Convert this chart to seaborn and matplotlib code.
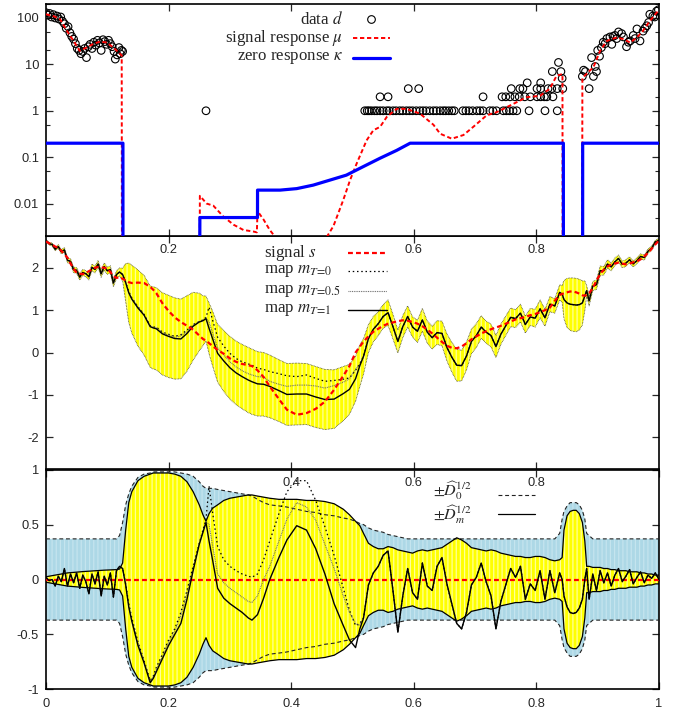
import numpy as np
import matplotlib
matplotlib.use("Agg")
import matplotlib.pyplot as plt
from matplotlib.lines import Line2D
from matplotlib.ticker import FixedLocator, LogLocator, NullFormatter
import seaborn as sns

# ---------------- top panel: data d (counts) ----------------
data_left_x = [0.000, 0.003, 0.006, 0.009, 0.012, 0.015, 0.018, 0.021, 0.024, 0.027, 0.030, 0.033,
               0.036, 0.039, 0.042, 0.045, 0.048, 0.051, 0.054, 0.057, 0.060, 0.063, 0.066, 0.069,
               0.072, 0.075, 0.078, 0.081, 0.084, 0.087, 0.090, 0.093, 0.096, 0.099, 0.102, 0.105,
               0.108, 0.111, 0.113, 0.116, 0.119, 0.121, 0.123, 0.125]
data_left_y = [130, 115, 125, 105, 118, 100, 110, 95, 105, 85, 75, 60, 65, 48, 40, 35, 28, 22, 20, 17,
               19, 22, 14, 24, 27, 22, 30, 26, 33, 29, 20, 34, 31, 27, 33, 28, 24, 19, 13, 16, 23, 17,
               20, 19]
count1_x = [0.261, 0.520, 0.524, 0.527, 0.531, 0.536, 0.540, 0.545, 0.550, 0.556, 0.560, 0.566, 0.571,
            0.577, 0.582, 0.588, 0.593, 0.598, 0.604, 0.610, 0.615, 0.620, 0.626, 0.632, 0.637, 0.643,
            0.648, 0.652, 0.657, 0.662, 0.666, 0.680, 0.685, 0.690, 0.696, 0.703, 0.708, 0.713, 0.724,
            0.729, 0.735, 0.746, 0.751, 0.756, 0.762, 0.768, 0.788, 0.814, 0.834]
count2_x = [0.545, 0.558, 0.713, 0.744, 0.750, 0.757, 0.765, 0.772, 0.781, 0.790, 0.801, 0.807, 0.813,
            0.817, 0.827]
count3_x = [0.591, 0.608, 0.759, 0.773, 0.778, 0.801, 0.807, 0.819, 0.825, 0.834, 0.843, 0.886]
count4_x = [0.785, 0.807]
high_x = [0.826, 0.836, 0.840, 0.842]
high_y = [7, 11, 7, 5]
data_right_x = [0.875, 0.877, 0.880, 0.890, 0.893, 0.896, 0.898, 0.900, 0.903, 0.906, 0.909, 0.912,
                0.915, 0.920, 0.923, 0.925, 0.928, 0.931, 0.934, 0.939, 0.942, 0.947, 0.950, 0.953,
                0.958, 0.961, 0.964, 0.969, 0.974, 0.977, 0.980, 0.983, 0.985, 0.990, 0.993, 0.996, 0.999]
data_right_y = [5.5, 7.5, 7, 14, 5.5, 9, 7, 20, 15, 23, 30, 28, 36, 39, 27, 40, 42, 36, 50, 46, 39, 24,
                30, 32, 42, 36, 58, 32, 52, 60, 68, 80, 120, 110, 105, 140, 150]

# signal response mu (values far below the axis mark where it leaves the plot)
mu_x = [0.000, 0.012, 0.023, 0.034, 0.045, 0.055, 0.066, 0.077, 0.088, 0.099, 0.110, 0.121, 0.1235,
        0.1240, 0.2505, 0.2510, 0.262, 0.273, 0.289, 0.306, 0.322, 0.338, 0.3440, 0.3450, 0.355, 0.365,
        0.374, 0.380, 0.450, 0.458, 0.469, 0.485, 0.496, 0.507, 0.523, 0.534, 0.545, 0.556, 0.572,
        0.588, 0.610, 0.632, 0.643, 0.662, 0.681, 0.697, 0.719, 0.735, 0.762, 0.784, 0.806, 0.822,
        0.833, 0.8425, 0.8430, 0.8745, 0.8750, 0.893, 0.904, 0.915, 0.931, 0.942, 0.953, 0.964, 0.974,
        0.985, 1.000]
mu_y = [120, 110, 94, 53, 32, 19.6, 23, 27.5, 31, 29.6, 23, 16.7, 15.5, 1e-5, 1e-5, 0.0147, 0.010,
        0.009, 0.0053, 0.0035, 0.0027, 0.0025, 0.0024, 0.0069, 0.0045, 0.0027, 0.0019, 0.0005, 0.0005,
        0.0019, 0.0033, 0.012, 0.032, 0.074, 0.23, 0.38, 0.45, 0.74, 1.1, 1.1, 0.87, 0.5, 0.32, 0.25,
        0.3, 0.45, 0.8, 0.93, 1.4, 1.96, 2.1, 3.0, 5.7, 6.2, 1e-5, 1e-5, 5.1, 8.7, 19.6, 32, 38, 35,
        29.5, 38, 53, 86, 150]

# zero response kappa
kappa_x = [0.000, 0.1255, 0.1256, 0.2505, 0.2510, 0.3450, 0.3451, 0.382, 0.409, 0.436, 0.463, 0.490,
           0.518, 0.545, 0.572, 0.594, 0.8440, 0.8441, 0.8754, 0.8755, 1.000]
kappa_y = [0.2, 0.2, 1e-5, 1e-5, 0.005, 0.005, 0.0195, 0.0195, 0.021, 0.025, 0.032, 0.041, 0.063,
           0.095, 0.14, 0.2, 0.2, 1e-5, 1e-5, 0.2, 0.2]

# ---------------- middle / bottom panels ----------------
x_grid = [0.000, 0.005, 0.010, 0.015, 0.020, 0.025, 0.030, 0.035, 0.040, 0.045, 0.050, 0.055, 0.060,
          0.065, 0.070, 0.075, 0.080, 0.085, 0.090, 0.095, 0.100, 0.105, 0.110, 0.115, 0.120, 0.125,
          0.130, 0.135, 0.140, 0.150, 0.160, 0.170, 0.175, 0.180, 0.190, 0.200, 0.210, 0.220, 0.230,
          0.240, 0.250, 0.256, 0.261, 0.266, 0.272, 0.280, 0.290, 0.300, 0.310, 0.320, 0.330, 0.336,
          0.345, 0.355, 0.365, 0.380, 0.393, 0.409, 0.425, 0.440, 0.455, 0.470, 0.485, 0.495, 0.505,
          0.512,
          0.518, 0.526, 0.534, 0.542, 0.550, 0.558, 0.566, 0.574, 0.582, 0.590, 0.598, 0.606, 0.614,
          0.622, 0.630, 0.638, 0.646, 0.654, 0.662, 0.670, 0.678, 0.686, 0.694, 0.702, 0.710, 0.718,
          0.726, 0.734, 0.742, 0.750, 0.758, 0.766, 0.774, 0.782, 0.790, 0.798, 0.806, 0.814, 0.822,
          0.830, 0.838,
          0.842, 0.845, 0.850, 0.855, 0.860, 0.865, 0.870, 0.875, 0.879, 0.882,
          0.886, 0.892, 0.898, 0.904, 0.910, 0.916, 0.922, 0.928, 0.934, 0.940, 0.946, 0.952, 0.958,
          0.964, 0.970, 0.976, 0.982, 0.988, 0.994, 1.000]

signal_s = [2.62, 2.58, 2.55, 2.50, 2.47, 2.40, 2.32, 2.24, 2.10, 1.98, 1.88, 1.86, 1.85, 1.88, 1.92,
            1.96, 2.00, 2.02, 2.01, 2.00, 1.98, 1.90, 1.80, 1.76, 1.78, 1.74,
            1.70, 1.66, 1.64, 1.65, 1.64, 1.55, 1.48, 1.40, 1.16, 0.98, 0.83, 0.72, 0.63, 0.54, 0.40,
            0.32, 0.28, 0.22, 0.15, 0.06, -0.03, -0.14, -0.22, -0.27, -0.30, -0.32, -0.42, -0.58,
            -0.80, -1.10, -1.35, -1.47, -1.43, -1.33, -1.16, -0.88, -0.55, -0.32, 0.00, 0.14,
            0.26, 0.38, 0.49, 0.56, 0.63, 0.68, 0.71, 0.74, 0.76, 0.75, 0.72, 0.68, 0.62, 0.54, 0.45,
            0.35, 0.25, 0.16, 0.11, 0.10, 0.14, 0.22, 0.31, 0.38, 0.45, 0.50, 0.55, 0.59, 0.63, 0.68,
            0.73, 0.78, 0.81, 0.84, 0.88, 0.91, 0.95, 1.00, 1.06, 1.22, 1.36,
            1.38, 1.40, 1.42, 1.44, 1.44, 1.42, 1.39, 1.35, 1.34, 1.36,
            1.40, 1.52, 1.70, 1.85, 1.96, 2.03, 2.08, 2.10, 2.12, 2.10, 2.08, 2.10, 2.13, 2.15, 2.20,
            2.27, 2.35, 2.45, 2.55, 2.65]

# residual m_T - s for T = 1 on the whole grid
resid_T1 = [0.02, -0.01, 0.00, -0.06, 0.03, -0.02, 0.10, -0.06, 0.05, -0.03, 0.06, -0.08, 0.04, -0.02,
            -0.13, 0.05, -0.04, 0.07, -0.15, 0.03, -0.05, 0.06, -0.16, 0.08, 0.12, 0.10,
            -0.05, -0.25, -0.38, -0.60, -0.76, -0.94, -0.90, -0.84, -0.72, -0.60, -0.50, -0.40, -0.18,
            0.08, 0.32, 0.43, 0.52, 0.35, 0.17, -0.08, -0.17, -0.22, -0.26, -0.30, -0.35, -0.37, -0.32,
            -0.17, 0.00, 0.20, 0.36, 0.49, 0.45, 0.28, 0.05, -0.22, -0.42, -0.55, -0.62, -0.45,
            -0.35, -0.05, 0.06, 0.12, 0.22, 0.26, -0.10, -0.48, -0.15, 0.10, -0.12, -0.18, 0.15, -0.06,
            -0.10, 0.12, 0.20, -0.04, -0.22, -0.40, -0.45, -0.30, -0.05, 0.02, 0.15, -0.02, -0.15,
            -0.45, -0.20, -0.05, 0.10, 0.02, 0.12, -0.18, -0.04, -0.10, 0.08, -0.18, 0.08, -0.12, 0.06,
            0.00, -0.15, -0.25, -0.30, -0.31, -0.30, -0.26, -0.18, 0.00, 0.10,
            -0.18, 0.05, -0.10, 0.08, -0.03, 0.06, -0.06, 0.04, 0.10, -0.02, 0.03, 0.09, -0.04, 0.02,
            0.07, -0.03, 0.04, 0.01, 0.06, 0.00]

# residuals for T = 0 and T = 0.5 inside the data gap 0.13 .. 0.512 (elsewhere they follow T = 1)
resid_T0_gap = [-0.04, -0.22, -0.35, -0.57, -0.74, -0.92, -0.88, -0.80, -0.68, -0.55, -0.45, -0.30,
                -0.10, 0.12, 0.33, 0.45, 0.55, 0.85, 0.60, 0.30, 0.18, 0.12, 0.08, 0.05, 0.03, 0.02,
                0.05, 0.18, 0.35, 0.60, 0.80, 0.90, 0.90, 0.72, 0.48, 0.22, -0.08, -0.28, -0.42, -0.40]
resid_T05_gap = [-0.05, -0.24, -0.37, -0.58, -0.75, -0.93, -0.89, -0.82, -0.70, -0.57, -0.47, -0.33,
                 -0.13, 0.10, 0.33, 0.44, 0.53, 0.50, 0.30, 0.05, -0.03, -0.08, -0.12, -0.16, -0.20,
                 -0.21, -0.15, 0.00, 0.12, 0.35, 0.55, 0.70, 0.66, 0.54, 0.32, 0.10, -0.15, -0.30,
                 -0.40, -0.42]

# posterior uncertainty D_m^{1/2} and prior D_0^{1/2}
sigma_m = [0.025, 0.030, 0.035, 0.040, 0.045, 0.050, 0.055, 0.060, 0.062, 0.065, 0.067, 0.070, 0.072,
           0.074, 0.076, 0.078, 0.080, 0.082, 0.084, 0.085, 0.086, 0.087, 0.088, 0.090, 0.095, 0.15,
           0.45, 0.70, 0.80, 0.90, 0.94, 0.96, 0.97, 0.97, 0.97, 0.97, 0.96, 0.94, 0.89, 0.80, 0.68,
           0.59, 0.53, 0.60, 0.65, 0.68, 0.72, 0.74, 0.75, 0.76, 0.77, 0.77, 0.76, 0.75, 0.74, 0.73,
           0.73, 0.73, 0.72, 0.72, 0.71, 0.69, 0.64, 0.59, 0.53, 0.49,
           0.42, 0.33, 0.30, 0.28, 0.28, 0.30, 0.29, 0.27, 0.26, 0.25, 0.24, 0.26, 0.27, 0.26, 0.27,
           0.28, 0.29, 0.32, 0.35, 0.38, 0.36, 0.33, 0.29, 0.28, 0.27, 0.26, 0.27, 0.26, 0.24, 0.23,
           0.22, 0.21, 0.21, 0.20, 0.20, 0.21, 0.21, 0.20, 0.18, 0.17, 0.18,
           0.20, 0.45, 0.58, 0.62, 0.63, 0.63, 0.60, 0.52, 0.35, 0.12,
           0.12, 0.11, 0.11, 0.11, 0.10, 0.10, 0.09, 0.09, 0.08, 0.08, 0.08, 0.07, 0.07, 0.07, 0.06,
           0.06, 0.05, 0.05, 0.04, 0.04]
sigma_0 = ([0.37] * 24 + [0.40, 0.52] +
           [0.68, 0.78, 0.85, 0.93, 0.96, 0.97, 0.98, 0.98, 0.98, 0.98, 0.98, 0.97, 0.96, 0.94, 0.89,
            0.85, 0.83, 0.83, 0.83, 0.82, 0.81, 0.80, 0.79, 0.78, 0.77, 0.76, 0.73, 0.70, 0.68, 0.67,
            0.66, 0.64, 0.62, 0.61, 0.59, 0.58, 0.56, 0.55, 0.53, 0.51] +
           [0.50, 0.47, 0.45, 0.44, 0.43, 0.41, 0.40, 0.39, 0.38, 0.37] + [0.37] * 30 + [0.42] +
           [0.55, 0.62, 0.67, 0.70, 0.70, 0.70, 0.68, 0.63, 0.55, 0.42] +
           [0.40] + [0.37] * 19)

# ---------------- assemble ----------------
xg = np.array(x_grid)
s = np.array(signal_s)
r1 = np.array(resid_T1)
gap = slice(x_grid.index(0.130), x_grid.index(0.512) + 1)
r0 = r1.copy(); r0[gap] = resid_T0_gap
r05 = r1.copy(); r05[gap] = resid_T05_gap
sm = np.array(sigma_m)
s0 = np.array(sigma_0)
m1, m0, m05 = s + r1, s + r0, s + r05

d_x = data_left_x + count1_x + count2_x + count3_x + count4_x + high_x + data_right_x
d_y = (data_left_y + [1] * len(count1_x) + [2] * len(count2_x) + [3] * len(count3_x)
       + [4] * len(count4_x) + high_y + data_right_y)

sns.set_style("ticks")
plt.rcParams.update({
    "font.family": ["Liberation Sans", "DejaVu Sans"],
    "mathtext.fontset": "stix",
    "hatch.linewidth": 0.9,
    "axes.linewidth": 1.2,
    "axes.edgecolor": "black",
})

RED = "#ff0000"
BLUE = "#0000ff"
YEL = "#ffff00"
LBLUE = "#add8e6"
red_ls = (0, (2.2, 1.4))
t0_ls = (0, (1.2, 2.2))
t05_ls = (0, (0.8, 0.8))
d0_ls = (0, (3.5, 2.5))
SERIF = ["Liberation Serif", "DejaVu Serif"]

fig = plt.figure(figsize=(6.86, 7.11), dpi=100)
L, W = 46 / 686, 613 / 686


def pos(top_px, bot_px):
    return [L, (711 - bot_px) / 711, W, (bot_px - top_px) / 711]


ax_top = fig.add_axes(pos(4, 236))
ax_mid = fig.add_axes(pos(236, 469))
ax_bot = fig.add_axes(pos(469.7, 689.3))
ax_top.set_zorder(3)
ax_mid.set_zorder(2)
ax_bot.set_zorder(1)

# ---------- top ----------
ax_top.set_yscale("log")
sns.scatterplot(x=d_x, y=d_y, ax=ax_top, marker="o", s=30, facecolor="none",
                edgecolor="black", linewidth=0.8, legend=False, zorder=2)
sns.lineplot(x=mu_x, y=mu_y, ax=ax_top, color=RED, linewidth=1.4, linestyle=red_ls,
             estimator=None, sort=False, legend=False, zorder=3)
sns.lineplot(x=kappa_x, y=kappa_y, ax=ax_top, color=BLUE, linewidth=2.3,
             estimator=None, sort=False, legend=False, zorder=4)
ax_top.set_ylim(0.002, 200)
ax_top.set_xlim(0, 1)
ax_top.yaxis.set_major_locator(FixedLocator([0.01, 0.1, 1, 10, 100]))
ax_top.set_yticklabels(["0.01", "0.1", "1", "10", "100"])
ax_top.yaxis.set_minor_locator(LogLocator(base=10, subs=(2.0, 5.0)))
ax_top.yaxis.set_minor_formatter(NullFormatter())
ax_top.set_xticks([0.2, 0.4, 0.6, 0.8])
ax_top.set_xticklabels(["0.2", "", "0.6", "0.8"])

# ---------- middle ----------
ax_mid.fill_between(xg, m1 - sm, m1 + sm, facecolor=YEL, edgecolor="#ffff9a", hatch="||||",
                    linewidth=0, zorder=1)
for edge in (m1 + sm, m1 - sm):
    sns.lineplot(x=xg, y=edge, ax=ax_mid, color="#333333", linewidth=0.6, linestyle=(0, (0.8, 1.0)),
                 estimator=None, sort=False, legend=False, zorder=2)
sns.lineplot(x=xg, y=m0, ax=ax_mid, color="black", linewidth=0.9, linestyle=t0_ls,
             estimator=None, sort=False, legend=False, zorder=3)
sns.lineplot(x=xg, y=m05, ax=ax_mid, color="#666666", linewidth=0.8, linestyle=t05_ls,
             estimator=None, sort=False, legend=False, zorder=3)
sns.lineplot(x=xg, y=m1, ax=ax_mid, color="black", linewidth=1.0,
             estimator=None, sort=False, legend=False, zorder=4)
sns.lineplot(x=xg, y=s, ax=ax_mid, color=RED, linewidth=1.6, linestyle=red_ls,
             estimator=None, sort=False, legend=False, zorder=5)
ax_mid.set_xlim(0, 1)
ax_mid.set_ylim(-2.75, 2.75)
ax_mid.set_yticks([-2, -1, 0, 1, 2])
ax_mid.set_yticklabels(["-2", "-1", "0", "1", "2"])
ax_mid.set_xticks([0.2, 0.4, 0.6, 0.8])
ax_mid.set_xticklabels(["", "0.4", "0.6", "0.8"])

# ---------- bottom ----------
ax_bot.fill_between(xg, -s0, s0, facecolor=LBLUE, edgecolor="#c4e4ee", hatch="||||",
                    linewidth=0, zorder=1)
ax_bot.fill_between(xg, -sm, sm, facecolor=YEL, edgecolor="#ffff9a", hatch="||||",
                    linewidth=0, zorder=2)
for edge in (s0, -s0):
    sns.lineplot(x=xg, y=edge, ax=ax_bot, color="#222222", linewidth=0.8, linestyle=d0_ls,
                 estimator=None, sort=False, legend=False, zorder=3)
for edge in (sm, -sm):
    sns.lineplot(x=xg, y=edge, ax=ax_bot, color="black", linewidth=0.9,
                 estimator=None, sort=False, legend=False, zorder=3)
ax_bot.axhline(0, color=RED, linewidth=1.6, linestyle=red_ls, zorder=4)
sns.lineplot(x=xg, y=r0, ax=ax_bot, color="black", linewidth=0.9, linestyle=t0_ls,
             estimator=None, sort=False, legend=False, zorder=5)
sns.lineplot(x=xg, y=r05, ax=ax_bot, color="#666666", linewidth=0.8, linestyle=t05_ls,
             estimator=None, sort=False, legend=False, zorder=5)
sns.lineplot(x=xg, y=r1, ax=ax_bot, color="black", linewidth=1.0,
             estimator=None, sort=False, legend=False, zorder=6)
ax_bot.set_xlim(0, 1)
ax_bot.set_ylim(-1, 1)
ax_bot.set_yticks([-1, -0.5, 0, 0.5, 1])
ax_bot.set_yticklabels(["-1", "-0.5", "0", "0.5", "1"])
ax_bot.set_xticks([0, 0.2, 0.4, 0.6, 0.8, 1.0])
ax_bot.set_xticklabels(["0", "0.2", "0.4", "0.6", "0.8", "1"])

for ax in (ax_top, ax_mid, ax_bot):
    ax.set_xlabel("")
    ax.set_ylabel("")
    ax.tick_params(which="major", direction="in", length=5, width=0.9, top=True, right=True,
                   labelsize=9.3, pad=6)
    ax.tick_params(axis="y", which="major", pad=5)
    for sp in ax.spines.values():
        sp.set_visible(True)
        sp.set_linewidth(1.2)
ax_top.tick_params(which="minor", direction="in", length=3, width=0.8, right=True)


# ---------- keys ----------
def key_line(ax, x0, x1, y, **kw):
    ax.add_line(Line2D([x0, x1], [y, y], transform=ax.transAxes, clip_on=False, **kw))


FS = 12.2
tkw = dict(fontsize=FS, family=SERIF, va="center")
ax_top.text(0.4845, 0.935, r"data $d$", transform=ax_top.transAxes, ha="right", **tkw)
ax_top.add_line(Line2D([0.530], [0.935], transform=ax_top.transAxes, marker="o", mfc="none",
                       mec="black", ms=5.5, mew=0.8, linestyle="none", clip_on=False))
ax_top.text(0.4845, 0.852, r"signal response $\mu$", transform=ax_top.transAxes, ha="right", **tkw)
key_line(ax_top, 0.5008, 0.5612, 0.852, color=RED, linewidth=1.4, linestyle=red_ls)
ax_top.text(0.4845, 0.769, r"zero response $\kappa$", transform=ax_top.transAxes, ha="right", **tkw)
key_line(ax_top, 0.5008, 0.5612, 0.766, color=BLUE, linewidth=2.3)

ax_mid.text(0.3556, 0.928, r"signal $s$", transform=ax_mid.transAxes, ha="left", **tkw)
key_line(ax_mid, 0.4927, 0.5563, 0.928, color=RED, linewidth=1.6, linestyle=red_ls)
ax_mid.text(0.3556, 0.850, r"map $m_{T\!=\!0}$", transform=ax_mid.transAxes, ha="left", **tkw)
key_line(ax_mid, 0.4927, 0.5563, 0.850, color="black", linewidth=0.9, linestyle=t0_ls)
ax_mid.text(0.3556, 0.766, r"map $m_{T\!=\!0.5}$", transform=ax_mid.transAxes, ha="left", **tkw)
key_line(ax_mid, 0.4927, 0.5563, 0.766, color="#666666", linewidth=0.8, linestyle=t05_ls)
ax_mid.text(0.3556, 0.682, r"map $m_{T\!=\!1}$", transform=ax_mid.transAxes, ha="left", **tkw)
key_line(ax_mid, 0.4927, 0.5563, 0.682, color="black", linewidth=1.0)

ax_bot.text(0.6313, 0.905, r"$\pm\widehat{D}_0^{1/2}$", transform=ax_bot.transAxes, ha="left",
            **dict(tkw, fontsize=11.5))
key_line(ax_bot, 0.737, 0.798, 0.885, color="#222222", linewidth=0.8, linestyle=d0_ls)
ax_bot.text(0.6313, 0.795, r"$\pm\widehat{D}_m^{1/2}$", transform=ax_bot.transAxes, ha="left",
            **dict(tkw, fontsize=11.5))
key_line(ax_bot, 0.737, 0.798, 0.798, color="black", linewidth=0.9)

fig.savefig("out.png", dpi=100)
